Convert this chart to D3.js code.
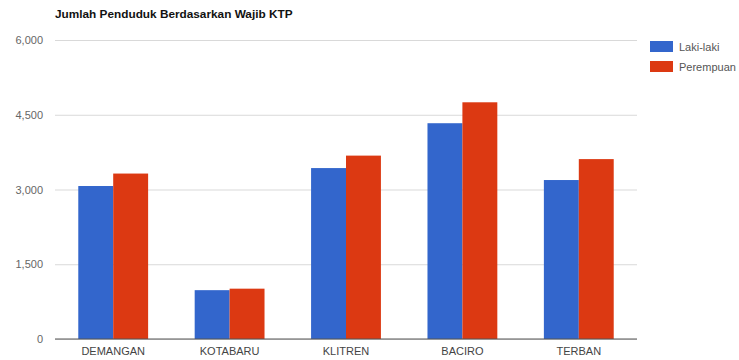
<!DOCTYPE html>
<html>
<head>
<meta charset="utf-8">
<script src="https://cdn.jsdelivr.net/npm/d3@7/dist/d3.min.js"></script>
<style>
  html, body { margin: 0; padding: 0; background: #fff; }
  svg { display: block; font-family: Arial, "Liberation Sans", sans-serif; }
</style>
</head>
<body>
<svg id="chart" width="739" height="360"></svg>
<script>
// Jumlah penduduk wajib KTP per kelurahan
const categories = ["DEMANGAN", "KOTABARU", "KLITREN", "BACIRO", "TERBAN"];
const seriesNames = ["Laki-laki", "Perempuan"];
const lakiLaki = [3070, 980, 3430, 4330, 3190];
const perempuan = [3320, 1010, 3680, 4750, 3610];
const yTicks = [0, 1500, 3000, 4500, 6000];
const colors = ["#3366cc", "#dc3912"];

const svg = d3.select("#chart");
const margin = { left: 55, right: 102, top: 40, bottom: 21 };
const W = 739, H = 360;

const x = d3.scaleBand()
  .domain(categories)
  .range([margin.left, W - margin.right])
  .paddingInner(0.4)
  .paddingOuter(0.2);

const xs = d3.scaleBand()
  .domain(seriesNames)
  .range([0, x.bandwidth()]);

const y = d3.scaleLinear()
  .domain([0, 6000])
  .range([H - margin.bottom, margin.top]);

// title
svg.append("text")
  .attr("x", 55).attr("y", 18)
  .attr("font-size", 11.8).attr("font-weight", "bold")
  .attr("fill", "#111")
  .text("Jumlah Penduduk Berdasarkan Wajib KTP");

// gridlines + y labels
const yAxis = d3.axisLeft(y)
  .tickValues(yTicks)
  .tickSize(-(W - margin.right - margin.left))
  .tickPadding(12)
  .tickFormat(d3.format(","));

const gy = svg.append("g")
  .attr("transform", `translate(${margin.left},0)`)
  .call(yAxis);
gy.select(".domain").remove();
gy.selectAll(".tick line").attr("stroke", "#d9d9d9");
gy.selectAll(".tick text")
  .attr("fill", "#666").attr("font-size", 11)
  .attr("font-family", "Arial, 'Liberation Sans', sans-serif");

// bars
const data = categories.map((c, i) => ({ cat: c, vals: [lakiLaki[i], perempuan[i]] }));
const groups = svg.append("g").selectAll("g")
  .data(data).join("g")
  .attr("transform", d => `translate(${x(d.cat)},0)`);

groups.selectAll("rect")
  .data(d => d.vals.map((v, j) => ({ name: seriesNames[j], v, j })))
  .join("rect")
  .attr("x", d => xs(d.name))
  .attr("width", xs.bandwidth())
  .attr("y", d => y(d.v))
  .attr("height", d => y(0) - y(d.v))
  .attr("fill", d => colors[d.j]);

// baseline
svg.append("line")
  .attr("x1", margin.left).attr("x2", W - margin.right)
  .attr("y1", y(0)).attr("y2", y(0))
  .attr("stroke", "#555").attr("stroke-width", 1);

// x labels
const xAxis = d3.axisBottom(x).tickSize(0).tickPadding(8);
const gx = svg.append("g")
  .attr("transform", `translate(0,${y(0)})`)
  .call(xAxis);
gx.select(".domain").remove();
gx.selectAll(".tick text")
  .attr("fill", "#444").attr("font-size", 11)
  .attr("font-family", "Arial, 'Liberation Sans', sans-serif");

// legend
const legend = svg.append("g").attr("transform", "translate(650,41)");
seriesNames.forEach((n, i) => {
  const g = legend.append("g").attr("transform", `translate(0,${i * 20})`);
  g.append("rect").attr("width", 23).attr("height", 11).attr("fill", colors[i]);
  g.append("text").attr("x", 29).attr("y", 9.5)
    .attr("font-size", 11).attr("fill", "#555").text(n);
});
</script>
</body>
</html>
